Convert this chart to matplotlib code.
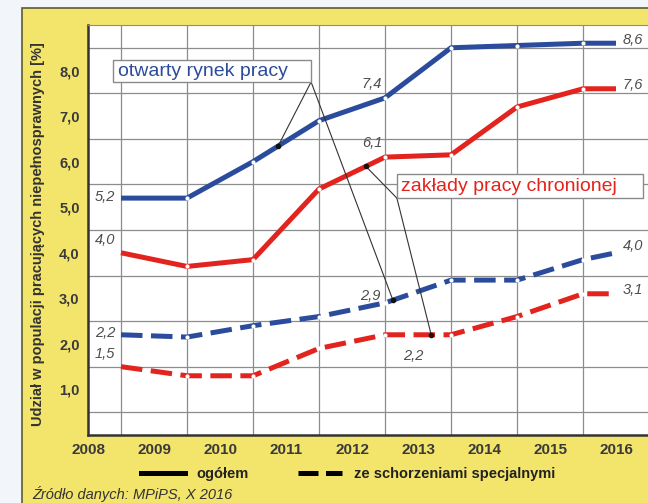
import numpy as np
import matplotlib.pyplot as plt
from matplotlib.lines import Line2D
from matplotlib.patches import Rectangle

plt.rcParams['font.family'] = ['Liberation Sans', 'DejaVu Sans']

# data (x = category boundary index; point 1 = start of 2009 ... 8.5 = middle of 2016)
years = ["2008", "2009", "2010", "2011", "2012", "2013", "2014", "2015", "2016"]
x_pts = [1, 2, 3, 4, 5, 6, 7, 8, 8.5]
otwarty_ogolem = [5.2, 5.2, 6.0, 6.9, 7.4, 8.5, 8.55, 8.6, 8.6]
chroniony_ogolem = [4.0, 3.7, 3.85, 5.4, 6.1, 6.15, 7.2, 7.6, 7.6]
otwarty_schorz = [2.2, 2.15, 2.4, 2.6, 2.9, 3.4, 3.4, 3.85, 4.0]
chroniony_schorz = [1.5, 1.3, 1.3, 1.9, 2.2, 2.2, 2.6, 3.1, 3.1]

BLUE = "#2b4b9c"
RED = "#e3231d"
YELLOW = "#f3e56b"
GRID = "#8c8c8c"
LABEL = "#4d4d4d"

fig = plt.figure(figsize=(6.48, 5.03), dpi=100)
fig.patch.set_facecolor("#f2f6fb")
fig.patches.append(Rectangle((22 / 648, -0.01), 0.99, (503 - 8) / 503 + 0.01,
                             transform=fig.transFigure, facecolor=YELLOW,
                             edgecolor="#5e5c32", lw=1.2, zorder=-10))

ax = fig.add_axes([88 / 648, 68 / 503, 594 / 648, 410 / 503])
ax.set_facecolor("white")
ax.set_xlim(0.5, 9.5)
ax.set_ylim(0, 9)

# grid
ax.set_xticks(np.arange(0.5, 9.0, 1.0))
ax.set_xticklabels(years)
ax.set_xticks(np.arange(1, 10), minor=True)
ax.set_yticks(np.arange(1, 9))
ax.set_yticklabels([f"{v:.1f}".replace(".", ",") for v in range(1, 9)])
ax.set_yticks(np.arange(0.5, 9.0, 0.5), minor=True)
ax.grid(which="minor", color=GRID, lw=0.9)
ax.tick_params(which="both", length=0)
ax.tick_params(axis="x", pad=6, labelsize=11, labelcolor="#3a3a3a")
ax.tick_params(axis="y", pad=6, labelsize=10.5, labelcolor="#3a3a3a")
for lab in ax.get_xticklabels() + ax.get_yticklabels():
    lab.set_fontweight("bold")
for s in ["left", "bottom"]:
    ax.spines[s].set_color("#333333")
    ax.spines[s].set_linewidth(1.8)
ax.spines["top"].set_color(GRID)
ax.spines["right"].set_visible(False)

ax.set_ylabel("Udział w populacji pracujących niepełnosprawnych [%]",
              fontsize=10.5, fontweight="bold", color="#333333")
ax.yaxis.set_label_coords(-0.072, 0.49)

# series
series = [
    (otwarty_ogolem, BLUE, "-"),
    (chroniony_ogolem, RED, "-"),
    (otwarty_schorz, BLUE, "--"),
    (chroniony_schorz, RED, "--"),
]
for vals, col, ls in series:
    line, = ax.plot(x_pts, vals, color=col, lw=3.6, ls=ls,
                    solid_capstyle="butt", dash_capstyle="butt", zorder=3)
    if ls == "--":
        line.set_dashes((4.3, 1.7))
    ax.plot(x_pts[1:-1], vals[1:-1], "o", color="white", ms=3,
            mec="none", zorder=4)


def fmt(v):
    return f"{v:.1f}".replace(".", ",")


def vlabel(vals, i, dx, dy, ha, va):
    ax.annotate(fmt(vals[i]), (x_pts[i], vals[i]), xytext=(dx, dy),
                textcoords="offset points", ha=ha, va=va, fontsize=10.5,
                style="italic", color=LABEL, zorder=6)


# value labels at start
vlabel(otwarty_ogolem, 0, -4, 1, "right", "center")
vlabel(chroniony_ogolem, 0, -4, 4, "right", "bottom")
vlabel(otwarty_schorz, 0, -4, 1, "right", "center")
vlabel(chroniony_schorz, 0, -4, 4, "right", "bottom")
# value labels at end
vlabel(otwarty_ogolem, -1, 5, 2, "left", "center")
vlabel(chroniony_ogolem, -1, 5, 3, "left", "center")
vlabel(otwarty_schorz, -1, 5, 5, "left", "center")
vlabel(chroniony_schorz, -1, 5, 3, "left", "center")
# value labels in the middle
vlabel(otwarty_ogolem, 4, -2, 5, "right", "bottom")
vlabel(chroniony_ogolem, 4, -2, 5, "right", "bottom")
vlabel(otwarty_schorz, 4, -3, 5, "right", "center")
vlabel(chroniony_schorz, 4, 13, -10, "left", "top")

# callout boxes
ax.add_patch(Rectangle((0.879, 7.75), 3.0, 0.48, fc="white", ec="#8a8a8a",
                       lw=1, zorder=7))
ax.text(0.955, 7.99, "otwarty rynek pracy", color=BLUE, fontsize=14,
        ha="left", va="center", zorder=8)
ax.add_patch(Rectangle((5.18, 5.2), 3.73, 0.53, fc="white", ec="#8a8a8a",
                       lw=1, zorder=7))
ax.text(5.24, 5.46, "zakłady pracy chronionej", color=RED, fontsize=14,
        ha="left", va="center", zorder=8)


def leader(src, xs, vals):
    y = np.interp(xs, x_pts, vals)
    ax.plot([src[0], xs], [src[1], y], color="#333333", lw=0.8, zorder=5)
    ax.plot(xs, y, "o", color="#111111", ms=3, zorder=5)


leader((3.88, 7.75), 3.38, otwarty_ogolem)
leader((3.88, 7.75), 5.12, otwarty_schorz)
leader((5.18, 5.2), 4.71, chroniony_ogolem)
leader((5.18, 5.2), 5.7, chroniony_schorz)

# legend
handles = [Line2D([], [], color="black", lw=3.6),
           Line2D([], [], color="black", lw=3.6, ls=(0, (4, 1.5)))]
leg = fig.legend(handles, ["ogółem", "ze schorzeniami specjalnymi"], ncol=2,
                 loc="center", bbox_to_anchor=(0.537, 0.057), frameon=False,
                 fontsize=10.5, handlelength=3.0, columnspacing=3.4,
                 handletextpad=0.8, labelcolor="#222222")
for t in leg.get_texts():
    t.set_fontweight("bold")

fig.text(32 / 648, 0.018, "Źródło danych: MPiPS, X 2016", fontsize=10.5,
         style="italic", color="#333333", ha="left", va="center")

fig.savefig("out.png", dpi=100, facecolor=fig.get_facecolor())
